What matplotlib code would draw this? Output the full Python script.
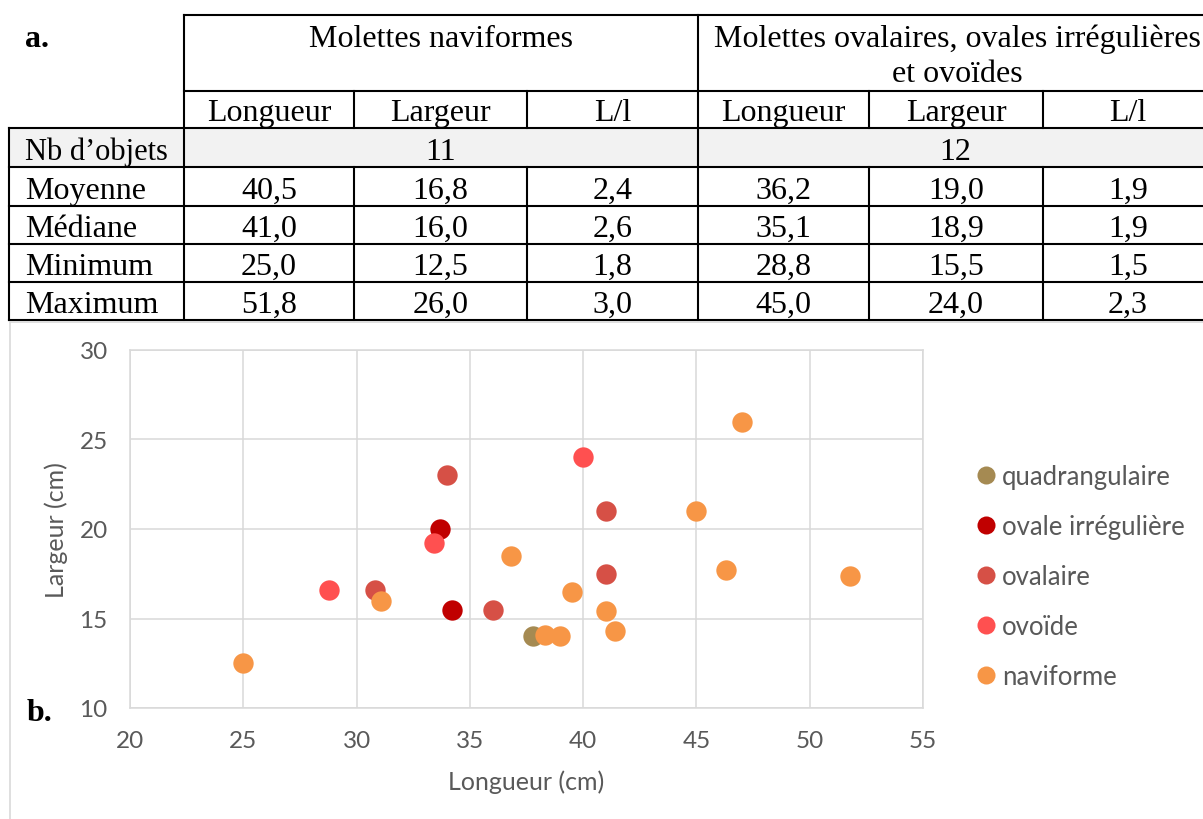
import matplotlib.pyplot as plt
from matplotlib.lines import Line2D

# ---- table data (a.) ----
groups = ['Molettes naviformes', 'Molettes ovalaires, ovales irrégulières\net ovoïdes']
sub_headers = ['Longueur', 'Largeur', 'L/l', 'Longueur', 'Largeur', 'L/l']
nb_objets = ['11', '12']
row_labels = ['Moyenne', 'Médiane', 'Minimum', 'Maximum']
table_values = [
    ['40,5', '16,8', '2,4', '36,2', '19,0', '1,9'],
    ['41,0', '16,0', '2,6', '35,1', '18,9', '1,9'],
    ['25,0', '12,5', '1,8', '28,8', '15,5', '1,5'],
    ['51,8', '26,0', '3,0', '45,0', '24,0', '2,3'],
]

# ---- scatter data (b.) ----
series_names = ['quadrangulaire', 'ovale irrégulière', 'ovalaire', 'ovoïde', 'naviforme']
series_colors = ['#A58A52', '#C00000', '#D65046', '#FF5050', '#F79646']
quad_x = [37.8]
quad_y = [14.0]
ovirr_x = [33.7, 34.2]
ovirr_y = [20.0, 15.5]
ovalaire_x = [30.8, 34.0, 36.0, 41.0, 41.0]
ovalaire_y = [16.6, 23.0, 15.5, 21.0, 17.5]
ovoide_x = [28.8, 33.4, 40.0]
ovoide_y = [16.6, 19.2, 24.0]
navi_x = [25.0, 31.1, 36.8, 38.3, 39.0, 39.5, 41.0, 41.4, 45.0, 46.3, 47.0, 51.8]
navi_y = [12.5, 16.0, 18.5, 14.1, 14.0, 16.5, 15.4, 14.3, 21.0, 17.7, 26.0, 17.4]

W, H = 1203, 820
fig = plt.figure(figsize=(W / 100, H / 100), dpi=100)

# background axes in pixel units for the table and frame
bg = fig.add_axes([0, 0, 1, 1])
bg.set_xlim(0, W)
bg.set_ylim(H, 0)
bg.axis('off')

serif = 'Liberation Serif'
tfs = 23
lw = 1.5
col_edges = [9, 184, 354, 527, 698, 869, 1043, 1213]
row_edges = [16, 92, 129, 168, 207, 245, 283, 321]

# grey background of the "Nb d'objets" row
bg.fill_between([col_edges[0], col_edges[-1]], row_edges[2], row_edges[3],
                color='#F2F2F2', lw=0, zorder=0)

# horizontal lines
bg.plot([col_edges[1], col_edges[-1]], [row_edges[0]] * 2, color='k', lw=lw)
bg.plot([col_edges[1], col_edges[-1]], [row_edges[1]] * 2, color='k', lw=lw)
for r in row_edges[2:]:
    bg.plot([col_edges[0], col_edges[-1]], [r, r], color='k', lw=lw)
# vertical lines
bg.plot([col_edges[0]] * 2, [row_edges[2], row_edges[-1]], color='k', lw=lw)
for c in (col_edges[1], col_edges[4]):
    bg.plot([c, c], [row_edges[0], row_edges[-1]], color='k', lw=lw)
for c in (col_edges[2], col_edges[3], col_edges[5], col_edges[6]):
    bg.plot([c, c], [row_edges[1], row_edges[2]], color='k', lw=lw)
    bg.plot([c, c], [row_edges[3], row_edges[-1]], color='k', lw=lw)

# chart frame (light grey)
bg.plot([10, 10], [323, H], color='#D9D9D9', lw=1.2)
bg.plot([10, W], [323, 323], color='#D9D9D9', lw=1.2)

# table texts
bg.text(25, 47, 'a.', fontsize=tfs, family=serif, weight='bold', va='baseline')
bg.text(441, 47, groups[0], fontsize=tfs, family=serif, ha='center', va='baseline')
g2 = groups[1].split('\n')
bg.text(957, 47, g2[0], fontsize=tfs, family=serif, ha='center', va='baseline')
bg.text(957, 82, g2[1], fontsize=tfs, family=serif, ha='center', va='baseline')

centers = [(col_edges[i] + col_edges[i + 1]) / 2 for i in range(1, 7)]
for cx, lab in zip(centers, sub_headers):
    bg.text(cx, row_edges[2] - 8, lab, fontsize=tfs, family=serif, ha='center', va='baseline')

bg.text(25, row_edges[3] - 8, 'Nb d\u2019objets', fontsize=tfs - 1, family=serif, va='baseline')
bg.text((col_edges[1] + col_edges[4]) / 2, row_edges[3] - 8, nb_objets[0],
        fontsize=tfs, family=serif, ha='center', va='baseline')
bg.text((col_edges[4] + 1213) / 2, row_edges[3] - 8, nb_objets[1],
        fontsize=tfs, family=serif, ha='center', va='baseline')

for i, (lab, vals) in enumerate(zip(row_labels, table_values)):
    yb = row_edges[4 + i] - 8
    bg.text(25, yb, lab, fontsize=tfs, family=serif, va='baseline')
    for cx, v in zip(centers, vals):
        bg.text(cx, yb, v, fontsize=tfs, family=serif, ha='center', va='baseline')

bg.text(27, 721, 'b.', fontsize=tfs, family=serif, weight='bold', va='baseline')

# ---- scatter plot ----
sans = 'Lato'
grey_txt = '#595959'
ax = fig.add_axes([130 / W, 1 - 709 / H, 793 / W, 358 / H])
xs = [quad_x, ovirr_x, ovalaire_x, ovoide_x, navi_x]
ys = [quad_y, ovirr_y, ovalaire_y, ovoide_y, navi_y]
for x, y, name, col in zip(xs, ys, series_names, series_colors):
    ax.scatter(x, y, s=215, color=col, label=name, zorder=3, linewidths=0)

ax.set_xlim(20, 55)
ax.set_ylim(10, 30)
ax.set_xticks(range(20, 56, 5))
ax.set_yticks(range(10, 31, 5))
ax.grid(True, color='#D9D9D9', lw=1.1)
for sp in ax.spines.values():
    sp.set_color('#D9D9D9')
    sp.set_linewidth(1.1)
ax.tick_params(length=0, labelsize=17.5, labelcolor=grey_txt)
ax.tick_params(axis='y', pad=16)
ax.tick_params(axis='x', pad=16)
for lbl in ax.get_xticklabels() + ax.get_yticklabels():
    lbl.set_family(sans)
ax.set_xlabel('Longueur (cm)', fontsize=18, color=grey_txt, family=sans, labelpad=13)
ax.set_ylabel('Largeur (cm)', fontsize=18, color=grey_txt, family=sans, labelpad=8)

handles = [Line2D([], [], marker='o', ls='', color=c, markersize=13, markeredgewidth=0)
           for c in series_colors]
leg = fig.legend(handles, series_names, loc='upper left',
                 bbox_to_anchor=(976 / W, 1 - 465 / H), frameon=False,
                 prop={'family': sans, 'size': 18.5}, handlelength=0.8,
                 handletextpad=0.2, labelspacing=0.97, borderpad=0, borderaxespad=0)
for t in leg.get_texts():
    t.set_color(grey_txt)

fig.savefig('out.png', dpi=100)
